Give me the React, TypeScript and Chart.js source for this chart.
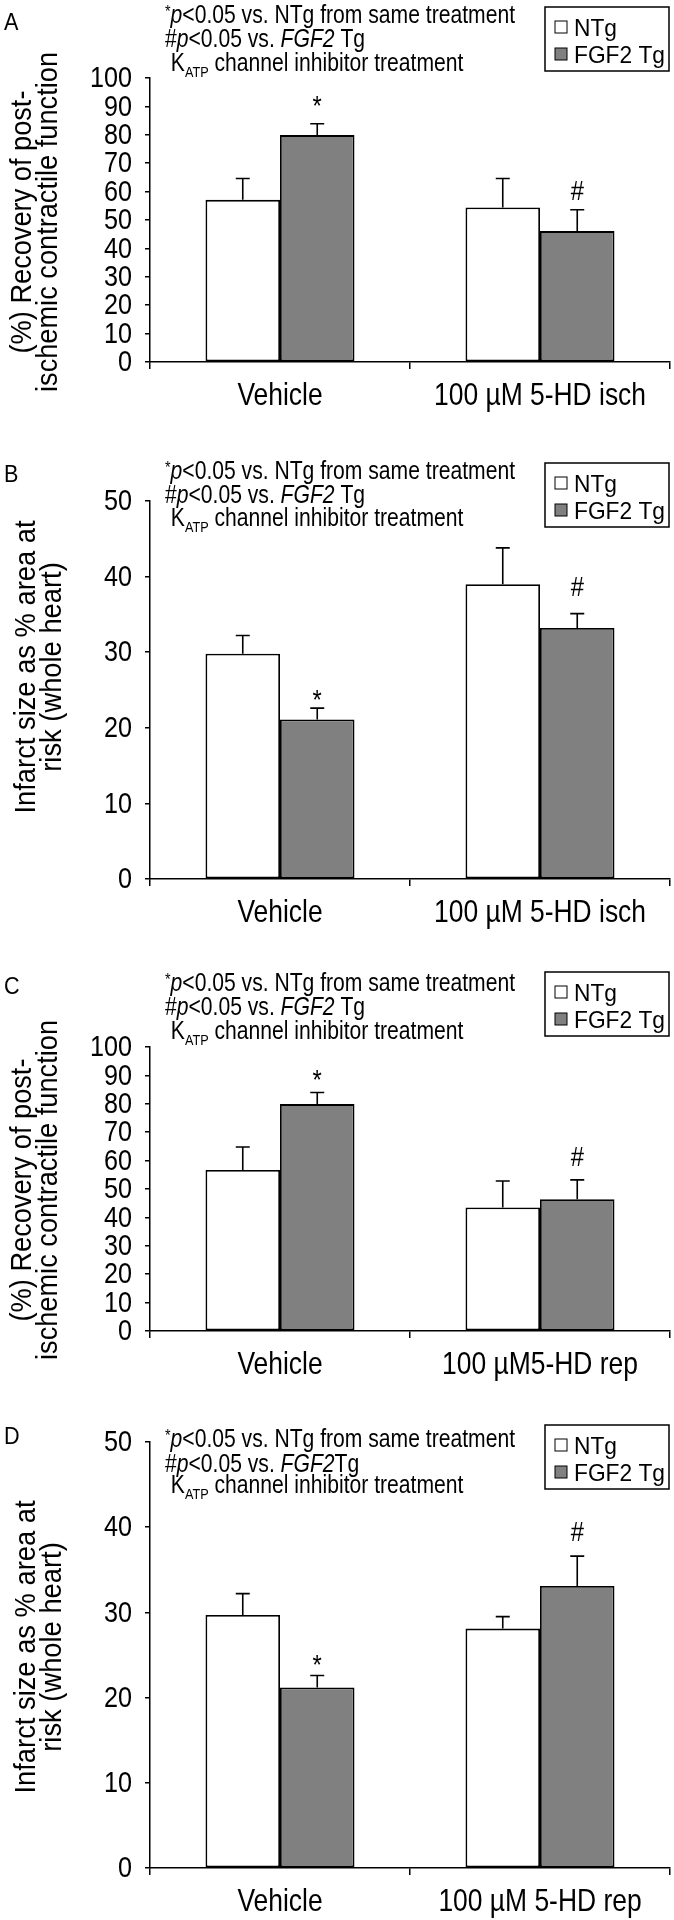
import React, { useEffect, useRef } from 'react';
import { Chart, registerables } from 'chart.js';

Chart.register(...registerables);

const FONT = '"Liberation Sans", Arial, Helvetica, sans-serif';

// ---------- data ----------
const seriesNames = ['NTg', 'FGF2 Tg'];

// Panel A
const catsA = ['Vehicle', '100 \u00b5M 5-HD isch'];
const ntgA = [57.1, 54.4];
const ntgTopA = [64.6, 64.6];
const fgfA = [79.9, 46.1];
const fgfTopA = [83.9, 53.6];
const sigA = ['*', '#'];
const sigLevelA = [91.8, 59.5];

// Panel B
const catsB = ['Vehicle', '100 \u00b5M 5-HD isch'];
const ntgB = [29.8, 39.0];
const ntgTopB = [32.2, 43.8];
const fgfB = [21.1, 33.2];
const fgfTopB = [22.6, 35.1];
const sigB = ['*', '#'];
const sigLevelB = [24.3, 38.4];

// Panel C
const catsC = ['Vehicle', '100 \u00b5M5-HD rep'];
const ntgC = [56.7, 43.5];
const ntgTopC = [64.8, 52.8];
const fgfC = [79.9, 46.4];
const fgfTopC = [84.0, 53.2];
const sigC = ['*', '#'];
const sigLevelC = [89.9, 60.6];

// Panel D
const catsD = ['Vehicle', '100 \u00b5M 5-HD rep'];
const ntgD = [29.7, 28.1];
const ntgTopD = [32.2, 29.5];
const fgfD = [21.2, 33.1];
const fgfTopD = [22.6, 36.6];
const sigD = ['*', '#'];
const sigLevelD = [24.3, 39.2];

const titleRecovery = ['(%) Recovery of post-', 'ischemic contractile function'];
const titleInfarct = ['Infarct size as % area at', 'risk (whole heart)'];

// ---------- layout ----------
type Spec = {
  letter: string;
  top: number;
  height: number;
  chartTop: number;
  chartBottom: number;
  annot: number[];
  legendTop: number;
  letterTop: number;
  titleCenter: number;
  titleBase: number[];
  titleLen: number; // on-screen length of the longest title line
  yMax: number;
  yStep: number;
  cats: string[];
  ntg: number[];
  ntgTop: number[];
  fgf: number[];
  fgfTop: number[];
  sig: string[];
  sigLevel: number[];
  title: string[];
  tgSpace: boolean;
};

const specs: Spec[] = [
  { letter: 'A', top: 0, height: 440, chartTop: 78, chartBottom: 362, annot: [14, 38, 62], legendTop: 7, letterTop: 13, titleCenter: 222, titleBase: [31, 57], titleLen: 340, yMax: 100, yStep: 10, cats: catsA, ntg: ntgA, ntgTop: ntgTopA, fgf: fgfA, fgfTop: fgfTopA, sig: sigA, sigLevel: sigLevelA, title: titleRecovery, tgSpace: true },
  { letter: 'B', top: 440, height: 500, chartTop: 61, chartBottom: 439, annot: [30, 54, 77], legendTop: 23, letterTop: 25, titleCenter: 227, titleBase: [35, 61], titleLen: 293, yMax: 50, yStep: 10, cats: catsB, ntg: ntgB, ntgTop: ntgTopB, fgf: fgfB, fgfTop: fgfTopB, sig: sigB, sigLevel: sigLevelB, title: titleInfarct, tgSpace: true },
  { letter: 'C', top: 940, height: 470, chartTop: 107, chartBottom: 391, annot: [42, 66, 90], legendTop: 32, letterTop: 37, titleCenter: 250, titleBase: [31, 57], titleLen: 340, yMax: 100, yStep: 10, cats: catsC, ntg: ntgC, ntgTop: ntgTopC, fgf: fgfC, fgfTop: fgfTopC, sig: sigC, sigLevel: sigLevelC, title: titleRecovery, tgSpace: true },
  { letter: 'D', top: 1410, height: 510, chartTop: 32, chartBottom: 458, annot: [28, 53, 74], legendTop: 15, letterTop: 17, titleCenter: 237, titleBase: [35, 61], titleLen: 293, yMax: 50, yStep: 10, cats: catsD, ntg: ntgD, ntgTop: ntgTopD, fgf: fgfD, fgfTop: fgfTopD, sig: sigD, sigLevel: sigLevelD, title: titleInfarct, tgSpace: false },
];

const W = 674;
const PLOT_LEFT = 150;
const PLOT_RIGHT = 670;
const GREY = '#808080';

function fontOf(size: number, italic?: boolean) {
  return `${italic ? 'italic ' : ''}${size}px ${FONT}`;
}

function measure(ctx: CanvasRenderingContext2D, s: string, size: number, italic = false) {
  ctx.save();
  ctx.font = fontOf(size, italic);
  const w = ctx.measureText(s).width;
  ctx.restore();
  return w;
}

// horizontally scaled text drawing
function ntext(
  ctx: CanvasRenderingContext2D,
  s: string,
  x: number,
  y: number,
  size: number,
  hs: number,
  align: CanvasTextAlign = 'left',
  baseline: CanvasTextBaseline = 'alphabetic',
  italic = false,
) {
  ctx.save();
  ctx.translate(x, y);
  ctx.scale(hs, 1);
  ctx.font = fontOf(size, italic);
  ctx.textAlign = align;
  ctx.textBaseline = baseline;
  ctx.fillText(s, 0, 0);
  const w = ctx.measureText(s).width * hs;
  ctx.restore();
  return w;
}

type Run = { t: string; italic?: boolean; size?: number; dy?: number };

function runsWidth(ctx: CanvasRenderingContext2D, runs: Run[], baseSize: number) {
  return runs.reduce((a, r) => a + measure(ctx, r.t, r.size ?? baseSize, !!r.italic), 0);
}

function drawRuns(ctx: CanvasRenderingContext2D, x: number, baseline: number, runs: Run[], baseSize: number, hs: number) {
  let cx = x;
  for (const r of runs) {
    const size = r.size ?? baseSize;
    cx += ntext(ctx, r.t, cx, baseline + (r.dy ?? 0), size, hs, 'left', 'alphabetic', !!r.italic);
  }
}

function Panel({ spec }: { spec: Spec }) {
  const ref = useRef<HTMLCanvasElement>(null);
  useEffect(() => {
    const canvas = ref.current!;
    const xAxisH = spec.height - spec.chartBottom;
    const overlay = {
      id: 'overlay',
      afterDatasetsDraw(chart: any) {
        const ctx: CanvasRenderingContext2D = chart.ctx;
        const ys = chart.scales.y;
        ctx.save();
        ctx.strokeStyle = '#000';
        ctx.lineWidth = 1.6;
        const tops = [spec.ntgTop, spec.fgfTop];
        [0, 1].forEach((di) => {
          const meta = chart.getDatasetMeta(di);
          meta.data.forEach((bar: any, i: number) => {
            const yE = ys.getPixelForValue(tops[di][i]);
            ctx.beginPath();
            ctx.moveTo(bar.x, bar.y);
            ctx.lineTo(bar.x, yE);
            ctx.moveTo(bar.x - 7, yE);
            ctx.lineTo(bar.x + 7, yE);
            ctx.stroke();
          });
        });
        // significance markers on FGF2 bars
        const meta1 = chart.getDatasetMeta(1);
        ctx.fillStyle = '#000';
        meta1.data.forEach((bar: any, i: number) => {
          const s = spec.sig[i];
          if (!s) return;
          const y = ys.getPixelForValue(spec.sigLevel[i]);
          ntext(ctx, s, bar.x, y + (s === '*' ? 6 : 0), 27, 0.88, 'center', 'middle');
        });
        ctx.restore();
      },
      afterDraw(chart: any) {
        const ctx: CanvasRenderingContext2D = chart.ctx;
        const ys = chart.scales.y;
        const xsc = chart.scales.x;
        ctx.save();
        ctx.fillStyle = '#000';
        // y tick labels: "100" is about 42px wide in the reference
        const tickSize = 30;
        const tickHs = 42 / measure(ctx, '100', tickSize);
        ys.ticks.forEach((t: any) => {
          const y = ys.getPixelForValue(t.value);
          ntext(ctx, String(t.value), PLOT_LEFT - 18, y + 1, tickSize, tickHs, 'right', 'middle');
        });
        // x category labels: "100 µM 5-HD isch" about 212px wide
        const xSize = 32;
        const xHs = 212 / measure(ctx, '100 \u00b5M 5-HD isch', xSize);
        spec.cats.forEach((c, i) => {
          const x = xsc.getPixelForValue(i);
          ntext(ctx, c, x, spec.chartBottom + 34, xSize, xHs, 'center', 'middle');
        });
        // panel letter
        ntext(ctx, spec.letter, 4, spec.letterTop + 17, 24, 0.9);
        // annotation lines (line 1 spans ~350px)
        const ax = 165;
        const aSize = 25;
        const b = spec.annot.map((c) => c + 9);
        const l1: Run[] = [
          { t: '*', size: 17, dy: -6 },
          { t: 'p', italic: true },
          { t: '<' },
          { t: '0.05 vs. NTg from same treatment' },
        ];
        const l2: Run[] = [
          { t: '#' },
          { t: 'p', italic: true },
          { t: '<0.05 vs. ' },
          { t: 'FGF2', italic: true },
          { t: spec.tgSpace ? ' Tg' : 'Tg' },
        ];
        const l3: Run[] = [
          { t: ' K' },
          { t: 'ATP', size: 15, dy: 6 },
          { t: ' channel inhibitor treatment' },
        ];
        const aHs = 350 / runsWidth(ctx, l1, aSize);
        drawRuns(ctx, ax, b[0], l1, aSize, aHs);
        drawRuns(ctx, ax, b[1], l2, aSize, aHs);
        drawRuns(ctx, ax, b[2], l3, aSize, aHs);
        // legend
        const lx = 545, lt = spec.legendTop, lw = 124, lh = 64;
        ctx.lineWidth = 1.5;
        ctx.strokeStyle = '#000';
        ctx.strokeRect(lx, lt, lw, lh);
        const rows = [lt + 20, lt + 47];
        const fills = ['#ffffff', GREY];
        const lSize = 24;
        const lHs = 91 / measure(ctx, 'FGF2 Tg', lSize);
        rows.forEach((ry, i) => {
          ctx.fillStyle = fills[i];
          ctx.fillRect(555, ry - 6, 12, 12);
          ctx.lineWidth = 1;
          ctx.strokeRect(555, ry - 6, 12, 12);
          ctx.fillStyle = '#000';
          ntext(ctx, seriesNames[i], 574, ry + 9, lSize, lHs);
        });
        // y title (rotated)
        const tSize = 30;
        const longest = spec.title.reduce((a, s) => Math.max(a, measure(ctx, s, tSize)), 0);
        const tHs = spec.titleLen / longest;
        spec.title.forEach((line, i) => {
          ctx.save();
          ctx.translate(spec.titleBase[i], spec.titleCenter);
          ctx.rotate(-Math.PI / 2);
          ctx.scale(tHs, 1);
          ctx.font = fontOf(tSize);
          ctx.textAlign = 'center';
          ctx.textBaseline = 'alphabetic';
          ctx.fillText(line, 0, 0);
          ctx.restore();
        });
        ctx.restore();
      },
    };
    const chart = new Chart(canvas, {
      type: 'bar',
      data: {
        labels: spec.cats,
        datasets: [
          { label: seriesNames[0], data: spec.ntg, backgroundColor: '#ffffff', borderColor: '#000', borderWidth: 1.8, borderSkipped: false },
          { label: seriesNames[1], data: spec.fgf, backgroundColor: GREY, borderColor: '#000', borderWidth: 1.8, borderSkipped: false },
        ],
      },
      options: {
        responsive: false,
        animation: false,
        devicePixelRatio: 1,
        layout: { padding: { top: spec.chartTop, right: W - PLOT_RIGHT, bottom: 0, left: 0 }, autoPadding: false },
        plugins: { legend: { display: false }, tooltip: { enabled: false }, title: { display: false } },
        datasets: { bar: { categoryPercentage: 0.573, barPercentage: 1 } },
        scales: {
          x: {
            offset: true,
            grid: { display: true, offset: true, drawOnChartArea: false, drawTicks: true, tickLength: 7, color: '#000', lineWidth: 1.5 },
            border: { display: true, color: '#000', width: 1.5 },
            ticks: { display: false, autoSkip: false },
            afterFit: (s: any) => { s.height = xAxisH; },
          },
          y: {
            min: 0,
            max: spec.yMax,
            ticks: { display: false, stepSize: spec.yStep, autoSkip: false },
            grid: { display: true, drawOnChartArea: false, drawTicks: true, tickLength: 5, color: '#000', lineWidth: 1.5 },
            border: { display: true, color: '#000', width: 1.5 },
            afterFit: (s: any) => { s.width = PLOT_LEFT; },
          },
        },
      } as any,
      plugins: [overlay],
    });
    return () => chart.destroy();
  }, []);
  return (
    <canvas
      ref={ref}
      width={W}
      height={spec.height}
      style={{ position: 'absolute', left: 0, top: spec.top, width: W, height: spec.height }}
    />
  );
}

export default function App() {
  return (
    <div style={{ position: 'absolute', left: 0, top: 0, width: W, height: 1920, background: '#fff' }}>
      {specs.map((s) => (
        <Panel key={s.letter} spec={s} />
      ))}
    </div>
  );
}
